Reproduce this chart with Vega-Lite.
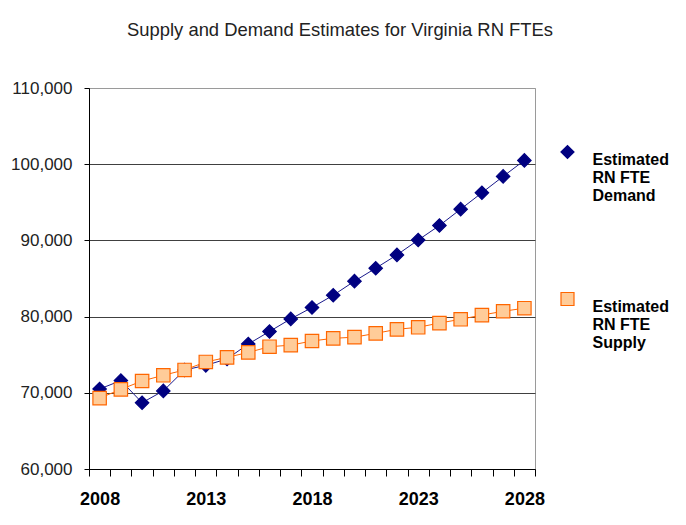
{
  "$schema": "https://vega.github.io/schema/vega-lite/v6.json",
  "autosize": "none",
  "width": 446,
  "height": 381,
  "padding": {"left": 89, "top": 88, "right": 151, "bottom": 56},
  "background": "white",
  "title": {
    "text": "Supply and Demand Estimates for Virginia RN FTEs",
    "font": "Liberation Sans",
    "fontSize": 18.4,
    "fontWeight": "normal",
    "color": "#222222",
    "anchor": "middle",
    "frame": "group",
    "baseline": "alphabetic",
    "dx": 28,
    "offset": 25
  },
  "data": {
    "values": [
      {"year": 2008, "series": "Demand", "value": 70500},
      {"year": 2009, "series": "Demand", "value": 71600},
      {"year": 2010, "series": "Demand", "value": 68700},
      {"year": 2011, "series": "Demand", "value": 70250},
      {"year": 2012, "series": "Demand", "value": 73000},
      {"year": 2013, "series": "Demand", "value": 73600},
      {"year": 2014, "series": "Demand", "value": 74450},
      {"year": 2015, "series": "Demand", "value": 76400},
      {"year": 2016, "series": "Demand", "value": 78050},
      {"year": 2017, "series": "Demand", "value": 79700},
      {"year": 2018, "series": "Demand", "value": 81200},
      {"year": 2019, "series": "Demand", "value": 82800},
      {"year": 2020, "series": "Demand", "value": 84650},
      {"year": 2021, "series": "Demand", "value": 86350},
      {"year": 2022, "series": "Demand", "value": 88100},
      {"year": 2023, "series": "Demand", "value": 90050},
      {"year": 2024, "series": "Demand", "value": 91950},
      {"year": 2025, "series": "Demand", "value": 94100},
      {"year": 2026, "series": "Demand", "value": 96250},
      {"year": 2027, "series": "Demand", "value": 98400},
      {"year": 2028, "series": "Demand", "value": 100500},
      {"year": 2008, "series": "Supply", "value": 69300},
      {"year": 2009, "series": "Supply", "value": 70450},
      {"year": 2010, "series": "Supply", "value": 71550},
      {"year": 2011, "series": "Supply", "value": 72300},
      {"year": 2012, "series": "Supply", "value": 73000},
      {"year": 2013, "series": "Supply", "value": 74050},
      {"year": 2014, "series": "Supply", "value": 74650},
      {"year": 2015, "series": "Supply", "value": 75300},
      {"year": 2016, "series": "Supply", "value": 76050},
      {"year": 2017, "series": "Supply", "value": 76250},
      {"year": 2018, "series": "Supply", "value": 76800},
      {"year": 2019, "series": "Supply", "value": 77150},
      {"year": 2020, "series": "Supply", "value": 77300},
      {"year": 2021, "series": "Supply", "value": 77800},
      {"year": 2022, "series": "Supply", "value": 78330},
      {"year": 2023, "series": "Supply", "value": 78600},
      {"year": 2024, "series": "Supply", "value": 79150},
      {"year": 2025, "series": "Supply", "value": 79650},
      {"year": 2026, "series": "Supply", "value": 80200},
      {"year": 2027, "series": "Supply", "value": 80700},
      {"year": 2028, "series": "Supply", "value": 81100}
    ]
  },
  "encoding": {
    "x": {
      "field": "year",
      "type": "quantitative",
      "scale": {"domain": [2007.5, 2028.5], "nice": false, "zero": false},
      "axis": {
        "title": null,
        "grid": false,
        "values": [2007.5, 2008.5, 2009.5, 2010.5, 2011.5, 2012.5, 2013.5, 2014.5, 2015.5, 2016.5, 2017.5, 2018.5, 2019.5, 2020.5, 2021.5, 2022.5, 2023.5, 2024.5, 2025.5, 2026.5, 2027.5, 2028.5, 2008, 2013, 2018, 2023, 2028],
        "labelExpr": "datum.value % 1 === 0 ? format(datum.value, 'd') : ''",
        "labelOverlap": false,
        "labelFlush": false,
        "labelBound": false,
        "tickOpacity": {"condition": {"test": "datum.value % 1 === 0", "value": 0}, "value": 1},
        "tickSize": 7,
        "tickColor": "#000000",
        "domainColor": "#000000",
        "labelFont": "Liberation Sans",
        "labelFontSize": 18,
        "labelFontWeight": "bold",
        "labelColor": "#000000",
        "labelPadding": 14
      }
    },
    "y": {
      "field": "value",
      "type": "quantitative",
      "scale": {"domain": [60000, 110000], "nice": false, "zero": false},
      "axis": {
        "title": null,
        "values": [60000, 70000, 80000, 90000, 100000, 110000],
        "format": ",d",
        "grid": true,
        "gridColor": {"condition": {"test": "datum.value === 110000", "value": "#9a9a9a"}, "value": "#404040"},
        "gridWidth": 1,
        "tickSize": 5,
        "tickColor": "#000000",
        "domainColor": "#000000",
        "labelFont": "Liberation Sans",
        "labelFontSize": 17,
        "labelColor": "#222222",
        "labelPadding": 12,
        "labelFlush": false
      }
    }
  },
  "layer": [
    {
      "mark": {"type": "line", "strokeWidth": 1},
      "encoding": {
        "detail": {"field": "series", "type": "nominal"},
        "stroke": {"condition": {"test": "datum.series === 'Demand'", "value": "#1a1a8c"}, "value": "#FF6600"}
      }
    },
    {
      "mark": {"type": "point", "filled": true, "opacity": 1, "strokeWidth": 1.2},
      "encoding": {
        "shape": {
          "field": "series", "type": "nominal",
          "scale": {"domain": ["Demand", "Supply"], "range": ["diamond", "square"]}
        },
        "fill": {
          "field": "series", "type": "nominal",
          "scale": {"domain": ["Demand", "Supply"], "range": ["#000080", "#FFCC99"]},
          "legend": {
            "title": null, "orient": "none", "legendX": 470.5, "legendY": 56, "direction": "vertical", "padding": 0,
            "symbolSize": 169, "symbolStrokeWidth": 1.2, "labelOffset": 17,
            "labelFont": "Liberation Sans", "labelFontSize": 16, "labelFontWeight": "bold", "labelColor": "#000000",
            "labelLimit": 0, "labelBaseline": "top", "labelExpr": "['Estimated', 'RN FTE', datum.label]", "rowPadding": 86,
            "encode": {
              "symbols": {
                "update": {
                  "shape": {"signal": "datum.value === 'Demand' ? 'M-2.7,0L2.7,0M0,-1L1,0L0,1L-1,0Z' : 'M-2.7,0L-1,0M1,0L2.7,0M-1,-1L1,-1L1,1L-1,1Z'"}
                }
              }
            }
          }
        },
        "stroke": {"field": "series", "type": "nominal", "scale": {"domain": ["Demand", "Supply"], "range": ["#000080", "#FF6600"]}},
        "size": {"value": 180}
      }
    }
  ],
  "config": {
    "view": {"stroke": "#9a9a9a", "strokeWidth": 1},
    "font": "Liberation Sans"
  }
}
